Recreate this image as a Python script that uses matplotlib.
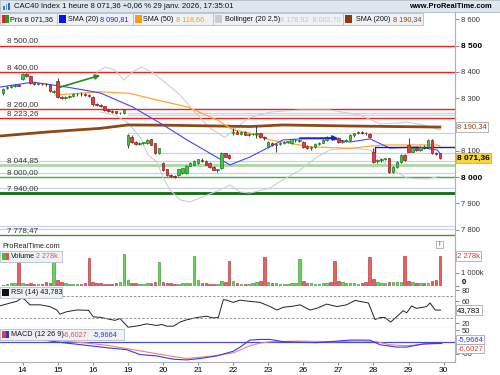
import matplotlib
matplotlib.use("Agg")
import matplotlib.pyplot as plt
from matplotlib.patches import Rectangle

plt.rcParams['font.family'] = ['Liberation Sans', 'DejaVu Sans']

W, H = 500, 375

# ---------------- data ----------------
days = ['14', '15', '16', '19', '20', '21', '22', '23', '26', '27', '28', '29', '30']
bars_before = 5      # hourly bars of Jan 13 still on screen
bars_per_day = 9

opens = [8318, 8338, 8342, 8346, 8350,
         8372, 8390, 8384, 8356, 8354, 8355, 8353, 8350, 8322,
         8366, 8305, 8300, 8304, 8310, 8314, 8316, 8314, 8312,
         8305, 8276, 8274, 8270, 8255, 8250, 8250, 8242, 8243,
         8122, 8153, 8134, 8124, 8129, 8128, 8143, 8128, 8090,
         8054, 8029, 8008, 8004, 8008, 8015, 8015, 8042, 8046,
         8053, 8066, 8062, 8053, 8037, 8027, 8033, 8090, 8084,
         8168, 8172, 8165, 8172, 8160, 8162, 8163, 8166, 8151,
         8115, 8130, 8122, 8125, 8128, 8134, 8128, 8140, 8138,
         8134, 8117, 8110, 8114, 8126, 8130, 8141, 8153, 8150,
         8148, 8134, 8136, 8141, 8158, 8166, 8170, 8168, 8164,
         8097, 8060, 8064, 8068, 8071, 8020, 8039, 8058, 8084,
         8122, 8097, 8110, 8104, 8114, 8115, 8141, 8090, 8090]
highs = [8340, 8345, 8350, 8352, 8354,
         8394, 8396, 8386, 8360, 8358, 8358, 8356, 8352, 8332,
         8376, 8310, 8308, 8312, 8318, 8320, 8322, 8318, 8315,
         8308, 8280, 8278, 8272, 8258, 8254, 8252, 8248, 8258,
         8165, 8158, 8138, 8132, 8134, 8144, 8146, 8130, 8112,
         8056, 8032, 8012, 8008, 8032, 8036, 8045, 8056, 8064,
         8070, 8072, 8064, 8056, 8040, 8032, 8094, 8093, 8086,
         8186, 8178, 8174, 8176, 8166, 8168, 8195, 8168, 8155,
         8138, 8134, 8128, 8132, 8136, 8138, 8146, 8146, 8146,
         8138, 8120, 8118, 8128, 8134, 8144, 8156, 8158, 8154,
         8152, 8140, 8146, 8162, 8168, 8174, 8176, 8172, 8166,
         8109, 8068, 8072, 8074, 8074, 8042, 8060, 8086, 8086,
         8148, 8112, 8116, 8118, 8120, 8145, 8144, 8094, 8092]
lows = [8312, 8335, 8338, 8342, 8345,
        8368, 8382, 8355, 8350, 8350, 8350, 8348, 8325, 8320,
        8300, 8296, 8296, 8300, 8306, 8310, 8310, 8308, 8305,
        8272, 8270, 8268, 8252, 8246, 8244, 8240, 8240, 8240,
        8109, 8130, 8120, 8122, 8125, 8125, 8120, 8088, 8088,
        8024, 8005, 8000, 7996, 8004, 8012, 8012, 8040, 8044,
        8050, 8058, 8044, 8036, 8025, 8018, 8030, 8075, 8068,
        8160, 8162, 8160, 8158, 8156, 8158, 8150, 8148, 8140,
        8110, 8118, 8095, 8120, 8124, 8130, 8126, 8134, 8134,
        8112, 8106, 8104, 8110, 8122, 8128, 8138, 8146, 8140,
        8130, 8128, 8132, 8138, 8154, 8162, 8164, 8160, 8150,
        8053, 8054, 8058, 8064, 8016, 8016, 8036, 8055, 8062,
        8094, 8094, 8100, 8100, 8108, 8112, 8088, 8082, 8068]
closes = [8336, 8340, 8346, 8350, 8348,
          8390, 8386, 8358, 8354, 8356, 8353, 8352, 8328, 8326,
          8305, 8300, 8306, 8310, 8314, 8316, 8314, 8312, 8308,
          8276, 8274, 8272, 8255, 8250, 8248, 8242, 8245, 8255,
          8160, 8134, 8124, 8129, 8131, 8141, 8122, 8090, 8109,
          8027, 8008, 8005, 8001, 8029, 8034, 8042, 8053, 8062,
          8068, 8062, 8046, 8038, 8027, 8028, 8090, 8077, 8071,
          8172, 8165, 8170, 8160, 8162, 8163, 8164, 8151, 8148,
          8134, 8120, 8125, 8129, 8134, 8135, 8143, 8142, 8142,
          8115, 8110, 8114, 8126, 8130, 8141, 8153, 8150, 8144,
          8134, 8136, 8142, 8160, 8166, 8170, 8168, 8166, 8153,
          8058, 8065, 8068, 8071, 8020, 8039, 8058, 8084, 8065,
          8097, 8110, 8104, 8114, 8112, 8141, 8090, 8086, 8071.36]
volumes = [100, 150, 260, 260, 1840,
           260, 180, 200, 160, 170, 180, 300, 250, 2480,
           440, 340, 200, 130, 150, 140, 160, 250, 2100,
           340, 220, 200, 180, 160, 150, 250, 300, 2430,
           440, 250, 200, 180, 170, 200, 260, 300, 1790,
           300, 250, 200, 180, 170, 200, 230, 250, 2280,
           440, 250, 200, 180, 160, 180, 380, 300, 1920,
           380, 200, 180, 170, 160, 200, 300, 350, 2230,
           300, 200, 220, 180, 170, 160, 200, 250, 2050,
           350, 250, 200, 180, 170, 200, 250, 300, 1890,
           400, 300, 220, 250, 200, 180, 250, 300, 2180,
           510, 300, 250, 230, 300, 280, 300, 300, 2280,
           410, 300, 220, 200, 200, 250, 350, 450, 2278]

# indicator lines (bar index, value)
sma20_x = [-0.8, 7.7, 16.4, 24.9, 33.3, 40.3, 47.2, 53.8, 58.2, 63.3, 71.8, 76.2, 84.6, 89, 94.1, 99.2, 106.2, 111.3, 112]
sma20_y = [8342, 8361, 8342, 8320, 8266, 8205, 8141, 8084, 8046, 8076, 8141, 8145, 8145, 8133, 8145, 8110, 8114, 8103, 8091]
sma50_x = [13.3, 24.9, 32.6, 37.7, 47.2, 54.9, 59, 63.3, 68.5, 78.7, 89, 97.4, 111.3, 112]
sma50_y = [8312, 8324, 8318, 8299, 8267, 8217, 8179, 8167, 8141, 8115, 8109, 8122, 8122, 8119]
sma200_x = [-0.8, 12, 24.9, 32, 42, 63.3, 71.8, 89, 112]
sma200_y = [8156, 8172, 8185, 8198, 8197, 8192, 8198, 8194, 8190]
boll_up_x = [24.1, 26.2, 28.7, 31, 33.1, 35.6, 38.2, 41.5, 45.4, 49.2, 53.1, 56.9, 60, 63.3, 68.5, 76.2, 83.8, 91.5, 96.7, 100.5, 103.6, 107.7, 112.1]
boll_up_y = [8399, 8418, 8407, 8369, 8399, 8418, 8399, 8361, 8312, 8247, 8186, 8150, 8190, 8226, 8247, 8255, 8255, 8236, 8202, 8205, 8209, 8198, 8179]
boll_lo_x = [24.9, 28.7, 32.1, 35.1, 37.2, 39.5, 41, 42.8, 45.4, 47.9, 50.5, 55.6, 58.2, 60.8, 63.3, 68.5, 71.8, 76.2, 80.5, 83.8, 89, 94.1, 97.9, 100, 103.6, 108.7, 112.1]
boll_lo_y = [8247, 8236, 8205, 8152, 8084, 8057, 8000, 7951, 7913, 7905, 7920, 7951, 7970, 7943, 7939, 7958, 7989, 8027, 8076, 8103, 8110, 8103, 8053, 8027, 7996, 7992, 8003]

rsi_x = [-0.8, 1.8, 3.5, 4.8, 5.6, 6.9, 9.5, 12, 13.8, 14.6, 16.3, 18.9, 21.9, 23.2, 24.9, 28.7, 30, 32.1, 35.1, 36.8, 39.4,
         40.7, 42, 43.7, 45.4, 47.1, 49.7, 52.2, 53.8, 55.2, 56.5, 57.4, 59, 60.8, 63.3, 65.9, 68.5, 70.2, 71.9, 74.4,
         76.2, 78.7, 80.4, 83, 85.6, 88.1, 90.3, 91.5, 93.7, 95.4, 96.7, 97.9, 99.4, 100.9, 102.6, 103.5, 104.8, 106,
         108.6, 109.5, 110.8, 112.2]
rsi_y = [51.6, 56.7, 59.8, 66, 63, 53.5, 53.5, 50.3, 44, 36.4, 40.8, 44, 43.4, 31.3, 30.6, 25, 28.3, 12.4, 15.6, 18.6, 15.6,
         17.5, 14.3, 14.3, 21.9, 26, 30.2, 32.6, 29.5, 30.2, 63, 62, 58, 62, 59.8, 58, 50.3, 44, 49, 51,
         53.5, 44, 47, 54.8, 50.3, 53.5, 61.6, 59.8, 56.9, 26.4, 30.2, 30.2, 21.9, 31.3, 42.7, 38.9, 51.4, 47,
         50.3, 56.9, 44, 43.8]
macd_x = [-0.8, 4.4, 9.5, 13.8, 20.6, 27.4, 31.7, 35.1, 39.4, 43.7, 47.1, 50.5, 54.8, 59, 60.8, 63.3, 65.9, 68.5, 71.9, 80.4, 89, 94.1, 96.7, 100.9, 103.5, 107.8, 112.5]
macd_y = [8, 18, 11, 0, -13, -26, -33, -54, -60, -74, -77, -71, -60, -40, -22, 8, 11, 11, 1, -3, 8, 8, -12, -22, -22, -8, -6]
signal_x = [-0.8, 4.4, 12, 20.6, 27.4, 33.3, 40.3, 47.1, 53.8, 59, 63.3, 65.9, 68.5, 76.2, 84.6, 91.5, 95.8, 99.2, 103.5, 109.5, 112.5]
signal_y = [16, 22, 8, -3, -16, -33, -53, -71, -60, -47, -16, -5, 1, 4, 1, 4, 1, -12, -16, -8, -6.6]

red_levels = [8500, 8400, 8260, 8223.26]
green_levels = [8044.85, 8000, 7940, 7778.47]
blue_levels = [8061, 8016, 7957, 7814, 7801]
level_labels = ['8 500,00', '8 400,00', '8 260,00', '8 223,26', '8 044,85', '8 000,00', '7 940,00', '7 778,47']
level_values = [8500, 8400, 8260, 8223.26, 8044.85, 8000, 7940, 7778.47]

# ---------------- figure ----------------
fig = plt.figure(figsize=(5, 3.75), dpi=100)


def box(x0, y0, x1, y1):
    return [x0 / W, 1 - y1 / H, (x1 - x0) / W, (y1 - y0) / H]


def fx(px):
    return px / W


def fy(py):
    return 1 - py / H


ax = fig.add_axes(box(0, 12, 455, 251))
axv = fig.add_axes(box(0, 251, 455, 286), sharex=ax)
axr = fig.add_axes(box(0, 286, 455, 328), sharex=ax)
axm = fig.add_axes(box(0, 328, 455, 362), sharex=ax)

n = len(closes)
xs = list(range(n))
GREEN, GREEN_E = '#3cc83c', '#1f7a1f'
RED, RED_E = '#e83a3a', '#8a1c1c'
GRID = '#a8b0b8'
FS = 5.2

for a in (ax, axv, axr, axm):
    a.set_facecolor('white')
    a.spines['left'].set_visible(False)
    a.spines['top'].set_visible(False)
    for s in ('right', 'bottom'):
        a.spines[s].set_color(GRID)
        a.spines[s].set_linewidth(0.8)
    a.yaxis.tick_right()
    a.tick_params(axis='y', length=3, width=0.6, color='#777777', labelsize=5.5, pad=1.5, labelcolor='#333333')
    a.tick_params(axis='x', length=0, labelbottom=False)
ax.set_xlim(-0.77, 115.9)

# ---- main price panel ----
ax.set_ylim(7718.5, 8627.7)
for lv in red_levels:
    ax.axhline(lv, color='#ee2020', lw=1.0, zorder=1)
for lv in blue_levels:
    ax.axhline(lv, color='#c8d2f0', lw=0.9, zorder=1)
ax.plot([32, 116], [8243, 8243], color='#c8d2f0', lw=0.9, zorder=1)
ax.plot([32, 116], [8237, 8237], color='#c8d2f0', lw=0.9, zorder=1)
ax.plot([32, 116], [8167, 8167], color='#c8d2f0', lw=0.9, zorder=1)
ax.plot([40, 116], [8091, 8091], color='#c8d2f0', lw=0.9, zorder=1)
ax.axhline(green_levels[0], color='#a9d9a0', lw=2.0, zorder=1)
ax.axhline(green_levels[1], color='#4aa84a', lw=1.0, zorder=1)
ax.axhline(green_levels[2], color='#0e6e0e', lw=2.0, zorder=1)
ax.axhline(green_levels[3], color='#2fa02f', lw=1.0, zorder=1)
for lab, lv in zip(level_labels, level_values):
    ax.text(1, lv + 4, lab, fontsize=5.8, color='#333333', va='bottom', ha='left')

ax.plot(boll_up_x, boll_up_y, color='#cfcfcf', lw=0.8, zorder=2)
ax.plot(boll_lo_x, boll_lo_y, color='#cfcfcf', lw=0.8, zorder=2)
ax.plot(sma200_x, sma200_y, color='#8b4a18', lw=2.0, zorder=2)
ax.plot(sma50_x, sma50_y, color='#ffa830', lw=0.9, zorder=2)
ax.plot(sma20_x, sma20_y, color='#4444ff', lw=0.8, zorder=2)
ax.plot([95.4, 95.4, 116], [8095, 8114, 8114], color='#1a1aa0', lw=1.0, zorder=2)

up = [c >= o for o, c in zip(opens, closes)]
ax.vlines(xs, lows, highs, color='#222222', lw=0.6, zorder=3)
bodies = [max(abs(c - o), 2.5) for o, c in zip(opens, closes)]
bottoms = [min(o, c) for o, c in zip(opens, closes)]
ax.bar(xs, bodies, bottom=bottoms, width=0.65,
       color=[GREEN if u else RED for u in up],
       edgecolor=[GREEN_E if u else RED_E for u in up], linewidth=0.5, zorder=4)

ax.annotate('', xy=(25.6, 8390), xytext=(13.8, 8338),
            arrowprops=dict(arrowstyle='-|>', color='#1e8a1e', lw=1.2, mutation_scale=7), zorder=5)
ax.annotate('', xy=(86.6, 8148), xytext=(75.4, 8148),
            arrowprops=dict(arrowstyle='-|>', color='#2020c8', lw=1.2, mutation_scale=7), zorder=5)

pticks = [7800, 7900, 8000, 8100, 8300, 8400, 8500, 8600]
ax.set_yticks(pticks)
ax.set_yticklabels(['{:,}'.format(t).replace(',', ' ') for t in pticks])
for t, lab in zip(pticks, ax.get_yticklabels()):
    if t in (8500, 8000):
        lab.set_fontweight('bold')
        lab.set_color('black')
        lab.set_fontsize(6.0)

ax.text(1.005, (8071.36 - 7718.5) / (8627.7 - 7718.5), '8 071,36', transform=ax.transAxes, fontsize=6.0,
        fontweight='bold', va='center', ha='left',
        bbox=dict(boxstyle='square,pad=0.15', fc='#f7d53c', ec='#c8a020', lw=0.5), zorder=10)
ax.text(1.005, (8190.34 - 7718.5) / (8627.7 - 7718.5), '8 190,34', transform=ax.transAxes, fontsize=5.5,
        color='#8b4513', va='center', ha='left',
        bbox=dict(boxstyle='square,pad=0.15', fc='white', ec='#999999', lw=0.5), zorder=10)

# ---- volume ----
axv.bar(xs, volumes, width=0.65, color=['#66d455' if u else '#e86060' for u in up],
        edgecolor=['#2a8a2a' if u else '#a82828' for u in up], linewidth=0.4)
axv.set_ylim(0, 2660)
axv.set_yticks([0, 1000])
axv.set_yticklabels(['0', '1 000k'])
zero_lab = axv.get_yticklabels()[0]
zero_lab.set_fontweight('bold')
zero_lab.set_color('black')
zero_lab.set_verticalalignment('bottom')
axv.text(1.005, 2278 / 2660, '2 278k', transform=axv.transAxes, fontsize=5.5, color='#dd3333', va='center',
         bbox=dict(boxstyle='square,pad=0.15', fc='white', ec='#999999', lw=0.5))

# ---- RSI ----
axr.plot(rsi_x, rsi_y, color='#222222', lw=0.7)
axr.axhline(70, color='#888888', lw=0.6, ls=(0, (3, 2)))
axr.axhline(30, color='#888888', lw=0.6, ls=(0, (3, 2)))
axr.set_ylim(11, 88)
axr.set_yticks([20, 60, 80])
axr.text(1.005, (43.783 - 11) / 77, '43,783', transform=axr.transAxes, fontsize=5.5, va='center',
         bbox=dict(boxstyle='square,pad=0.15', fc='white', ec='#999999', lw=0.5))

# ---- MACD ----
axm.axhline(0, color='#4a4ae0', lw=0.9)
axm.plot(signal_x, signal_y, color='#f08080', lw=0.8)
axm.plot(macd_x, macd_y, color='#3a3ae8', lw=0.8)
axm.set_ylim(-86, 60)
axm.set_yticks([-50, 50])
axm.set_yticklabels(['-50', '50'])
axm.text(1.005, (362 - 339.3) / 34, '-5,9664', transform=axm.transAxes, fontsize=5.5, color='#3333dd',
         va='center', bbox=dict(boxstyle='square,pad=0.15', fc='white', ec='#999999', lw=0.5))
axm.text(1.005, (362 - 348.3) / 34, '-6,6027', transform=axm.transAxes, fontsize=5.5, color='#dd4444',
         va='center', bbox=dict(boxstyle='square,pad=0.15', fc='white', ec='#999999', lw=0.5))

day_pos = [bars_before + bars_per_day * k for k in range(len(days))]
axm.set_xticks(day_pos)
axm.set_xticklabels(days)
axm.tick_params(axis='x', labelbottom=True, labelsize=6.0, length=2, color='#888888', pad=1.5)

# ---- header bar and legends ----
fig.patches.append(Rectangle((0, fy(12)), 1, 12 / H, transform=fig.transFigure, fc='#dfe7ee', ec='#b0bcc8', lw=0.6))
for k, c in enumerate(['#3a7fd0', '#5aa0e0', '#2a6ac0']):
    fig.patches.append(Rectangle((fx(3 + k * 2.5), fy(10)), 1.6 / W, (4 + k * 1.5) / H,
                                 transform=fig.transFigure, fc=c, ec='none'))
fig.text(fx(14), fy(6), 'CAC40 Index 1 heure 8 071,36 +0,06 % 29 janv. 2026, 17:35:01', fontsize=5.6,
         va='center', ha='left', color='#111111')
fig.text(fx(492), fy(6), 'www.ProRealTime.com', fontsize=5.4, fontweight='bold', va='center', ha='right')


def legend_box(x0, x1, y0, y1):
    fig.patches.append(Rectangle((fx(x0), fy(y1)), (x1 - x0) / W, (y1 - y0) / H, transform=fig.transFigure,
                                 fc='#eef2f6', ec='#b4c0cc', lw=0.6, zorder=5))


def swatch(x0, y0, colors):
    w = 7 / len(colors)
    for k, c in enumerate(colors):
        fig.patches.append(Rectangle((fx(x0 + k * w), fy(y0 + 7)), w / W, 7 / H, transform=fig.transFigure,
                                     fc=c, ec='none', zorder=6))


def ftext(px, py, s, color='#111111', **kw):
    fig.text(fx(px), fy(py), s, fontsize=FS, va='center', ha='left', color=color, zorder=7, **kw)


legend_box(0, 57, 13, 25)
swatch(1.5, 15.5, ['#e02020', '#20a020'])
ftext(10, 19.5, 'Prix 8 071,36')
legend_box(57, 133, 13, 25)
swatch(59, 15.5, ['#1010ee'])
ftext(68, 19.5, 'SMA (20)')
ftext(100, 19.5, '8 090,81', color='#2020ee')
legend_box(133, 213, 13, 25)
swatch(135, 15.5, ['#ff9a10'])
ftext(143, 19.5, 'SMA (50)')
ftext(176, 19.5, '8 118,66', color='#ff9a10')
legend_box(213, 343, 13, 25)
swatch(215, 15.5, ['#cccccc'])
ftext(225, 19.5, 'Bollinger (20 2,5)')
ftext(280, 19.5, '8 178,92  8 002,70', color='#c4c4c4')
legend_box(343, 423, 13, 25)
swatch(345, 15.5, ['#8b3a0a'])
ftext(356, 19.5, 'SMA (200)')
ftext(393, 19.5, '8 190,34', color='#8b4513')

ftext(2, 246, 'ProRealTime.com', color='#222222')
fig.patches.append(Rectangle((fx(436), fy(248)), 7 / W, 7 / H, transform=fig.transFigure,
                             fc='white', ec='#999999', lw=0.5, zorder=6))
fig.text(fx(439.5), fy(244.5), 'i', fontsize=5, ha='center', va='center', color='#555555', zorder=7)

legend_box(0, 62, 251, 262)
swatch(2, 253, ['#40c040', '#e05050'])
ftext(11, 256.5, 'Volume')
ftext(35.5, 256.5, '2 278k', color='#e05050')
legend_box(0, 62, 287, 298)
swatch(2, 289, ['#111111'])
ftext(11, 292.5, 'RSI (14) 43,783')
legend_box(0, 124, 329, 340)
swatch(2, 331, ['#e04040', '#3030e0'])
ftext(11, 334.5, 'MACD (12 26 9)')
ftext(63, 334.5, '-6,6027', color='#e05050')
ftext(93, 334.5, '-5,9664', color='#3030e0')

fig.savefig('out.png', dpi=100)
